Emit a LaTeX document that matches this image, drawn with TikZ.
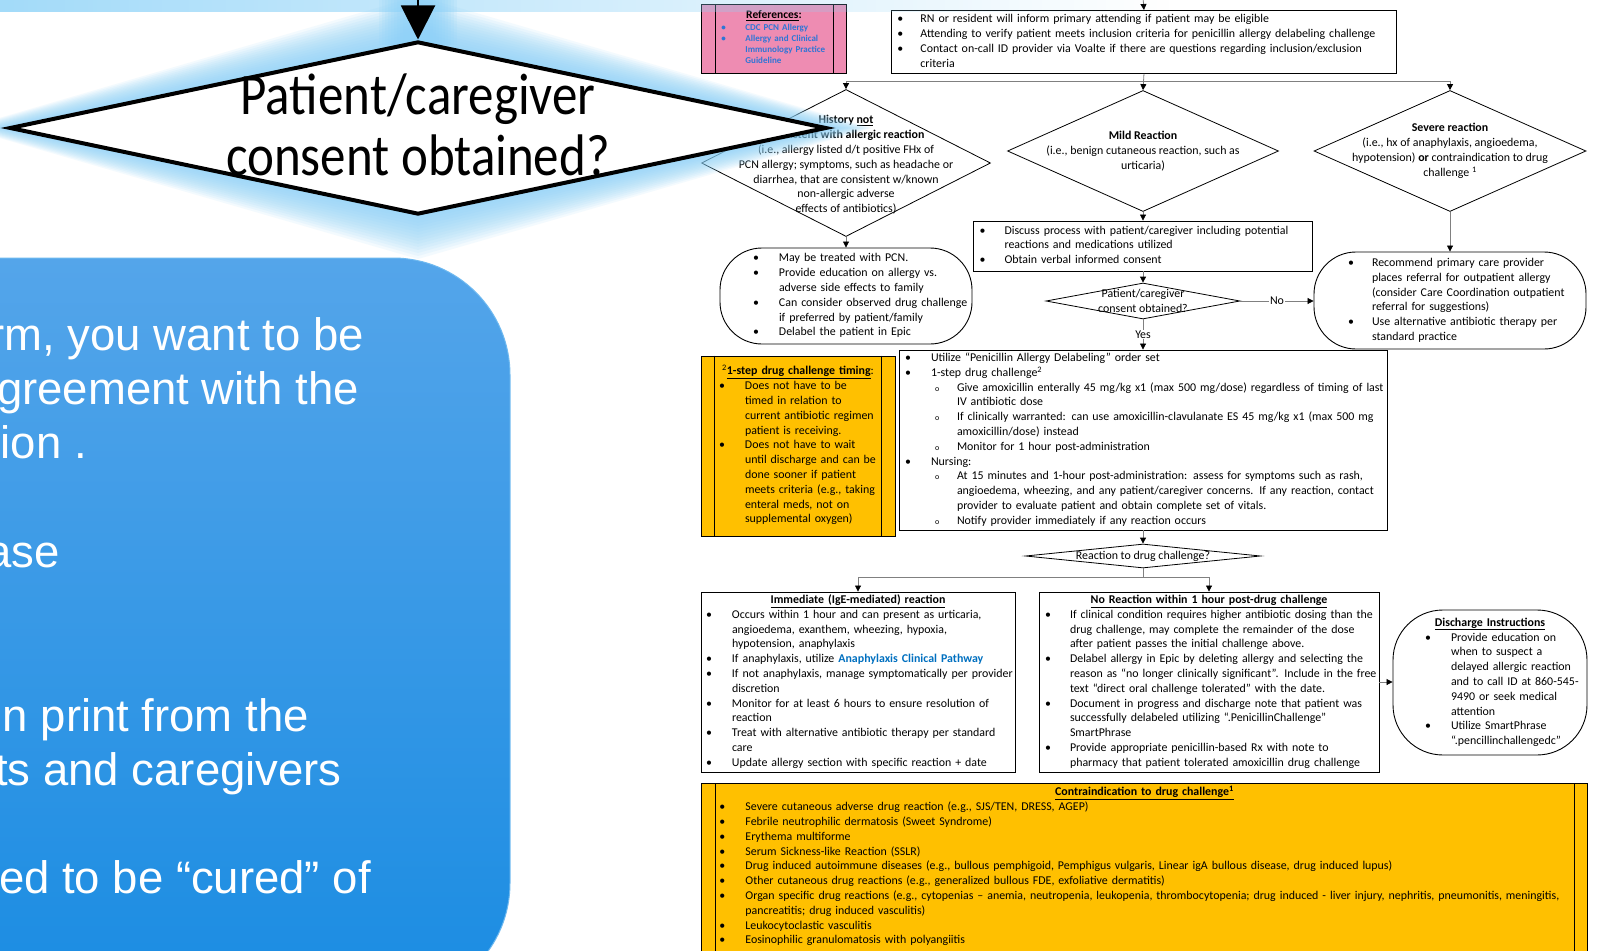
\documentclass[tikz,border=0pt]{standalone}
\usepackage{fontspec}
\setmainfont{Carlito}
\newfontfamily\slidefont{Liberation Sans}
\usetikzlibrary{positioning,shapes.geometric,arrows.meta,fadings}

\definecolor{glowc}{RGB}{140,210,248}
\definecolor{panelt}{RGB}{84,165,234}
\definecolor{panelm}{RGB}{42,157,240}
\definecolor{panelb}{RGB}{26,140,226}
\definecolor{panelline}{RGB}{110,185,240}
\definecolor{pinkf}{RGB}{238,140,178}
\definecolor{goldf}{RGB}{255,192,0}
\definecolor{refblue}{RGB}{46,117,214}
\definecolor{linkblue}{RGB}{0,112,192}
\definecolor{linegray}{RGB}{128,128,128}

\newcommand{\fs}{\fontsize{11.9}{14.8}\selectfont}
\newcommand{\hb}{\hspace{4pt}{\fontsize{8}{8}\selectfont o}}
\newcommand{\rows}[3]{\begin{tabular}{@{\hspace{#1}}p{#2}@{}l@{}}#3\end{tabular}}
\newcommand{\head}[2]{\multicolumn{2}{@{}l@{}}{\makebox[#1]{#2}}}

\begin{document}
\begin{tikzpicture}[x=1pt, y=-1pt,
    plainbox/.style={draw, rectangle, inner sep=0pt, font=\fs, line width=0.9pt},
    stadium/.style={plainbox, rounded corners=42pt},
    dia/.style={diamond, draw, inner sep=0pt, line width=0.8pt},
    diatext/.style={align=center, font=\fs, inner sep=0pt},
    flow/.style={draw=linegray, line width=0.8pt, -{Triangle[length=6pt,width=6pt,color=black]}},
    tag/.style={fill=white, inner sep=1pt, font=\fs},
    slide/.style={font=\slidefont\fontsize{45.5}{52}\selectfont, text=white, anchor=base east, inner sep=0pt}]

\useasboundingbox (0,0) rectangle (1600,950);
\fill[white] (0,0) rectangle (1600,950);

% the pathway chart
\node[plainbox, fill=pinkf, text=refblue, font=\fontsize{9}{11.2}\selectfont\bfseries,
      text width=145pt, minimum height=69pt, anchor=north west] (refs) at (701,4)
  {\rows{20pt}{24pt}{
   \head{145pt}{\fontsize{11.5}{11.2}\selectfont\color{black}\underline{References}:}\\
   \textbullet & CDC PCN Allergy\\
   \textbullet & Allergy and Clinical\\
   & Immunology Practice\\
   & Guideline}};
\draw ([xshift=14pt]refs.north west) -- ([xshift=14pt]refs.south west);
\draw ([xshift=-14pt]refs.north east) -- ([xshift=-14pt]refs.south east);

\node[plainbox, text width=505pt, minimum height=63pt, anchor=north west] (intro) at (891,10)
  {\rows{6pt}{23pt}{
   \textbullet & RN or resident will inform primary attending if patient may be eligible\\
   \textbullet & Attending to verify patient meets inclusion criteria for penicillin allergy delabeling challenge\\
   \textbullet & Contact on-call ID provider via Voalte if there are questions regarding inclusion/exclusion\\
   & criteria}};

\node[dia, minimum width=289pt, minimum height=147pt] (hist) at (846,163) {};
\node[diatext] (histtxt) at (846,165)
  {{\bfseries History \underline{not}}\\
   {\bfseries consistent with allergic reaction}\\
   (i.e., allergy listed d/t positive FHx of\\
   PCN allergy; symptoms, such as headache or\\
   diarrhea, that are consistent w/known\\
   non-allergic adverse\\
   effects of antibiotics)};
\node[dia, minimum width=271pt, minimum height=121pt] (mild) at (1143,151) {};
\node[diatext] (mildtxt) at (1143,151)
  {{\bfseries Mild Reaction}\\
   (i.e., benign cutaneous reaction, such as\\
   urticaria)};
\node[dia, minimum width=272pt, minimum height=121pt] (sev) at (1450,151) {};
\node[diatext] (sevtxt) at (1450,151)
  {{\bfseries Severe reaction}\\
   (i.e., hx of anaphylaxis, angioedema,\\
   hypotension) {\bfseries or} contraindication to drug\\
   challenge \textsuperscript{1}};

\node[stadium, text width=252pt, minimum height=96pt] (treat) at (846,296)
  {\rows{33pt}{26pt}{
   \textbullet & May be treated with PCN.\\
   \textbullet & Provide education on allergy vs.\\
   & adverse side effects to family\\
   \textbullet & Can consider observed drug challenge\\
   & if preferred by patient/family\\
   \textbullet & Delabel the patient in Epic}};

\node[plainbox, text width=339pt, minimum height=50pt] (discuss) at (1143,246)
  {\rows{6pt}{25pt}{
   \textbullet & Discuss process with patient/caregiver including potential\\
   & reactions and medications utilized\\
   \textbullet & Obtain verbal informed consent}};

\node[dia, minimum width=194pt, minimum height=36pt] (cons) at (1143,301) {};
\node[diatext] (constxt) at (1143,301) {Patient/caregiver\\consent obtained?};

\node[stadium, text width=272pt, minimum height=97pt] (refer) at (1450,300.5)
  {\rows{34pt}{24pt}{
   \textbullet & Recommend primary care provider\\
   & places referral for outpatient allergy\\
   & (consider Care Coordination outpatient\\
   & referral for suggestions)\\
   \textbullet & Use alternative antibiotic therapy per\\
   & standard practice}};

\node[plainbox, fill=goldf, text width=194pt, minimum height=180pt] (timing) at (798,446)
  {\rows{18pt}{26pt}{
   \head{194pt}{\textsuperscript{2}\underline{\bfseries 1-step drug challenge timing}:}\\
   \textbullet & Does not have to be\\
   & timed in relation to\\
   & current antibiotic regimen\\
   & patient is receiving.\\
   \textbullet & Does not have to wait\\
   & until discharge and can be\\
   & done sooner if patient\\
   & meets criteria (e.g., taking\\
   & enteral meds, not on\\
   & supplemental oxygen)}};
\draw ([xshift=14pt]timing.north west) -- ([xshift=14pt]timing.south west);
\draw ([xshift=-14pt]timing.north east) -- ([xshift=-14pt]timing.south east);

\node[plainbox, text width=488pt, minimum height=180pt] (challenge) at (1143,440)
  {\begin{tabular}{@{\hspace{6pt}}p{26pt}@{}p{26pt}@{}l@{}}
   \textbullet & \multicolumn{2}{@{}l@{}}{Utilize “Penicillin Allergy Delabeling” order set}\\
   \textbullet & \multicolumn{2}{@{}l@{}}{1-step drug challenge\textsuperscript{2}}\\
   & \hb & Give amoxicillin enterally 45 mg/kg x1 (max 500 mg/dose) regardless of timing of last\\
   & & IV antibiotic dose\\
   & \hb & If clinically warranted: can use amoxicillin-clavulanate ES 45 mg/kg x1 (max 500 mg\\
   & & amoxicillin/dose) instead\\
   & \hb & Monitor for 1 hour post-administration\\
   \textbullet & \multicolumn{2}{@{}l@{}}{Nursing:}\\
   & \hb & At 15 minutes and 1-hour post-administration: assess for symptoms such as rash,\\
   & & angioedema, wheezing, and any patient/caregiver concerns. If any reaction, contact\\
   & & provider to evaluate patient and obtain complete set of vitals.\\
   & \hb & Notify provider immediately if any reaction occurs
   \end{tabular}};

\node[dia, minimum width=235pt, minimum height=24pt] (react) at (1143,556) {};
\node[diatext] (reacttxt) at (1143,556) {Reaction to drug challenge?};

\node[plainbox, text width=314pt, minimum height=180pt] (imm) at (858,682)
  {\rows{5pt}{26pt}{
   \head{314pt}{\bfseries\underline{Immediate (IgE-mediated) reaction}}\\
   \textbullet & Occurs within 1 hour and can present as urticaria,\\
   & angioedema, exanthem, wheezing, hypoxia,\\
   & hypotension, anaphylaxis\\
   \textbullet & If anaphylaxis, utilize {\color{linkblue}\bfseries Anaphylaxis Clinical Pathway}\\
   \textbullet & If not anaphylaxis, manage symptomatically per provider\\
   & discretion\\
   \textbullet & Monitor for at least 6 hours to ensure resolution of\\
   & reaction\\
   \textbullet & Treat with alternative antibiotic therapy per standard\\
   & care\\
   \textbullet & Update allergy section with specific reaction + date}};

\node[plainbox, text width=340pt, minimum height=180pt] (nor) at (1209,682)
  {\rows{6pt}{25pt}{
   \head{340pt}{\bfseries\underline{No Reaction within 1 hour post-drug challenge}}\\
   \textbullet & If clinical condition requires higher antibiotic dosing than the\\
   & drug challenge, may complete the remainder of the dose\\
   & after patient passes the initial challenge above.\\
   \textbullet & Delabel allergy in Epic by deleting allergy and selecting the\\
   & reason as “no longer clinically significant”. Include in the free\\
   & text “direct oral challenge tolerated” with the date.\\
   \textbullet & Document in progress and discharge note that patient was\\
   & successfully delabeled utilizing “.PenicillinChallenge”\\
   & SmartPhrase\\
   \textbullet & Provide appropriate penicillin-based Rx with note to\\
   & pharmacy that patient tolerated amoxicillin drug challenge}};

\node[plainbox, rounded corners=50pt, text width=194pt, minimum height=145pt] (dis) at (1490,682.5)
  {\rows{32pt}{26pt}{
   \head{194pt}{\bfseries\underline{Discharge Instructions}}\\
   \textbullet & Provide education on\\
   & when to suspect a\\
   & delayed allergic reaction\\
   & and to call ID at 860-545-\\
   & 9490 or seek medical\\
   & attention\\
   \textbullet & Utilize SmartPhrase\\
   & “.pencillinchallengedc”}};

\node[plainbox, fill=goldf, text width=886pt, inner ysep=2pt, anchor=north west] (contra) at (701,783)
  {\rows{18pt}{26pt}{
   \head{886pt}{\bfseries\underline{Contraindication to drug challenge\textsuperscript{1}}}\\
   \textbullet & Severe cutaneous adverse drug reaction (e.g., SJS/TEN, DRESS, AGEP)\\
   \textbullet & Febrile neutrophilic dermatosis (Sweet Syndrome)\\
   \textbullet & Erythema multiforme\\
   \textbullet & Serum Sickness-like Reaction (SSLR)\\
   \textbullet & Drug induced autoimmune diseases (e.g., bullous pemphigoid, Pemphigus vulgaris, Linear igA bullous disease, drug induced lupus)\\
   \textbullet & Other cutaneous drug reactions (e.g., generalized bullous FDE, exfoliative dermatitis)\\
   \textbullet & Organ specific drug reactions (e.g., cytopenias – anemia, neutropenia, leukopenia, thrombocytopenia; drug induced - liver injury, nephritis, pneumonitis, meningitis,\\
   & pancreatitis; drug induced vasculitis)\\
   \textbullet & Leukocytoclastic vasculitis\\
   \textbullet & Eosinophilic granulomatosis with polyangiitis\\
   & \\
   & }};
\draw ([xshift=14pt]contra.north west) -- ([xshift=14pt]contra.south west);
\draw ([xshift=-14pt]contra.north east) -- ([xshift=-14pt]contra.south east);

% connectors
\coordinate (feed) at (1143,-3);
\coordinate (fork) at (1143,81);
\coordinate (fork2) at (1143,577);
\draw[flow] (feed) -- (intro.north);
\draw[flow] (intro.south) -- (mild.north);
\draw[flow] (fork) -| (hist.north);
\draw[flow] (fork) -| (sev.north);
\draw[flow] (hist.south) -- (treat.north);
\draw[flow] (mild.south) -- (discuss.north);
\draw[flow] (discuss.south) -- (cons.north);
\draw[flow] (sev.south) -- (refer.north);
\draw[flow] (cons.east) -- node[tag] {No} (cons.east -| refer.west);
\draw[flow] (cons.south) -- node[tag] {Yes} (challenge.north);
\draw[flow] (challenge.south) -- (react.north);
\draw[linegray, line width=0.8pt] (react.south) -- (fork2);
\draw[flow] (fork2) -| (imm.north);
\draw[flow] (fork2) -| (nor.north);
\draw[flow] (nor.east) -- (nor.east -| dis.west);

% glow round the enlarged question
\fill[glowc, path fading=east, opacity=0.8] (0,0) rectangle (1170,12);
\foreach \d in {3,6,...,45}
  \fill[glowc, opacity=0.1] (418,41-\d) -- (827+\d,128) -- (418,214+\d) -- (10-\d,128) -- cycle;
\foreach \d in {3,6,...,27}
  \fill[glowc, opacity=0.12] (406-\d,-5) rectangle (430+\d,45);

\node[diamond, draw, fill=white, line width=4pt, inner sep=0pt,
      minimum width=817pt, minimum height=173pt] (bigd) at (418,128) {};
\coordinate (bigfeed) at (418,-5);
\draw[line width=2pt, -{Triangle[length=34pt,width=34pt]}] (bigfeed) -- (bigd.north);
\node[font=\fontsize{51}{53}\selectfont, inner sep=0pt] (bigq) at (418,133)
  {\scalebox{1}[1.15]{\begin{tabular}{@{}c@{}}Patient/caregiver\\consent obtained?\end{tabular}}};

% slide panel
\shade[top color=panelt, middle color=panelm, bottom color=panelb, draw=panelline,
       line width=1pt, rounded corners=117pt] (-200,258) rectangle (510,1000);
\node[slide] (s1) at (364,350) {rm, you want to be};
\node[slide] (s2) at (359,404) {greement with the};
\node[slide] (s3) at (87,458) {ion .};
\node[slide] (s4) at (60,567) {ase};
\node[slide] (s5) at (309,731) {n print from the};
\node[slide] (s6) at (342,785) {ts and caregivers};
\node[slide] (s7) at (371,893) {ed to be “cured” of};
\end{tikzpicture}
\end{document}
